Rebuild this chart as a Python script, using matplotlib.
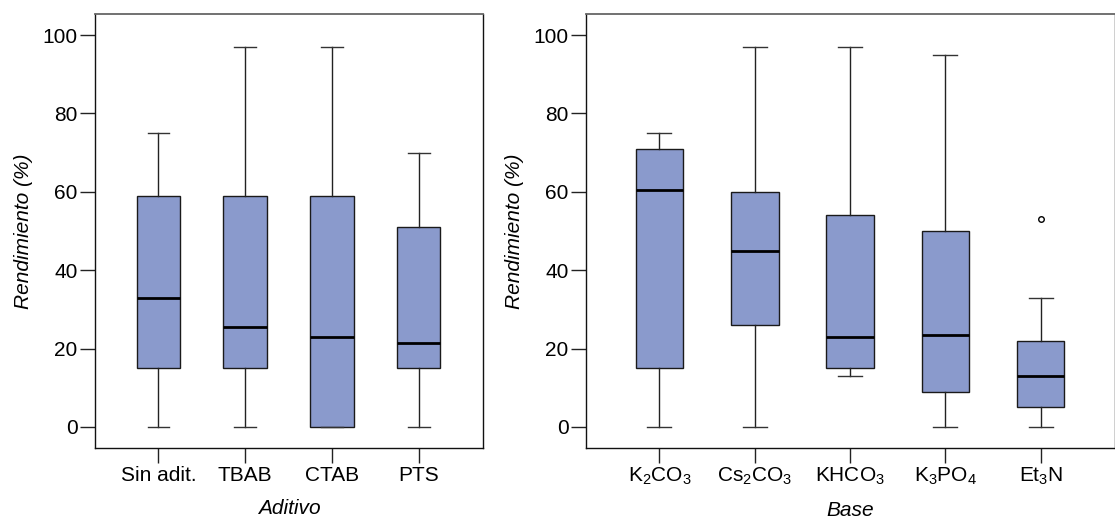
import matplotlib
matplotlib.use("Agg")
import matplotlib.pyplot as plt

plt.rcParams["font.family"] = ["Liberation Sans", "DejaVu Sans"]
plt.rcParams["mathtext.fontset"] = "custom"
plt.rcParams["mathtext.rm"] = "Liberation Sans"
plt.rcParams["mathtext.it"] = "Liberation Sans:italic"

# Additive panel: five-number summaries (yield, %)
additives = ["Sin adit.", "TBAB", "CTAB", "PTS"]
add_low = [0, 0, 0, 0]
add_q1 = [15, 15, 0, 15]
add_med = [33, 25.5, 23, 21.5]
add_q3 = [59, 59, 59, 51]
add_high = [75, 97, 97, 70]
add_out = [[], [], [], []]

# Base panel
bases = [r"K$_2$CO$_3$", r"Cs$_2$CO$_3$", r"KHCO$_3$", r"K$_3$PO$_4$", r"Et$_3$N"]
base_low = [0, 0, 13, 0, 0]
base_q1 = [15, 26, 15, 9, 5]
base_med = [60.5, 45, 23, 23.5, 13]
base_q3 = [71, 60, 54, 50, 22]
base_high = [75, 97, 97, 95, 33]
base_out = [[], [], [], [], [53]]

BOX_COLOR = "#8a9acc"
FS = 15


def stats(low, q1, med, q3, high, out):
    return [dict(whislo=a, q1=b, med=c, q3=d, whishi=e, fliers=f)
            for a, b, c, d, e, f in zip(low, q1, med, q3, high, out)]


def draw(ax, st, labels, xlabel, xlim):
    ax.bxp(st, positions=range(1, len(st) + 1), widths=0.5, capwidths=0.25,
           patch_artist=True, showfliers=True,
           boxprops=dict(facecolor=BOX_COLOR, edgecolor="#1a1a1a", linewidth=1.0),
           medianprops=dict(color="black", linewidth=2.0),
           whiskerprops=dict(color="#222222", linewidth=1.0),
           capprops=dict(color="#333333", linewidth=1.0),
           flierprops=dict(marker="o", markersize=4, markerfacecolor="white",
                           markeredgecolor="black", markeredgewidth=1.0))
    ax.set_xlim(*xlim)
    ax.set_ylim(-5.4, 105.4)
    ax.set_yticks([0, 20, 40, 60, 80, 100])
    ax.set_xticks(range(1, len(labels) + 1))
    ax.set_xticklabels(labels)
    ax.tick_params(axis="both", direction="out", length=11, width=1.0,
                   labelsize=FS, color="#222222")
    ax.tick_params(axis="y", pad=1.5)
    ax.tick_params(axis="x", pad=2)
    ax.set_ylabel("Rendimiento (%)", fontsize=FS, style="italic", labelpad=7)
    ax.set_xlabel(xlabel, fontsize=FS, style="italic", labelpad=10)
    for side in ["left", "bottom", "right"]:
        ax.spines[side].set_color("#111111")
        ax.spines[side].set_linewidth(1.0)
    ax.spines["top"].set_color("#666666")
    ax.spines["top"].set_linewidth(1.3)


fig = plt.figure(figsize=(11.15, 5.19), dpi=100)
ax1 = fig.add_axes([95 / 1115, 1 - 448 / 519, 388 / 1115, 434 / 519])
ax2 = fig.add_axes([586 / 1115, 1 - 448 / 519, 529 / 1115, 434 / 519])

draw(ax1, stats(add_low, add_q1, add_med, add_q3, add_high, add_out),
     additives, "Aditivo", (0.27, 4.74))
draw(ax2, stats(base_low, base_q1, base_med, base_q3, base_high, base_out),
     bases, "Base", (0.23, 5.78))

fig.savefig("out.png", dpi=100)
